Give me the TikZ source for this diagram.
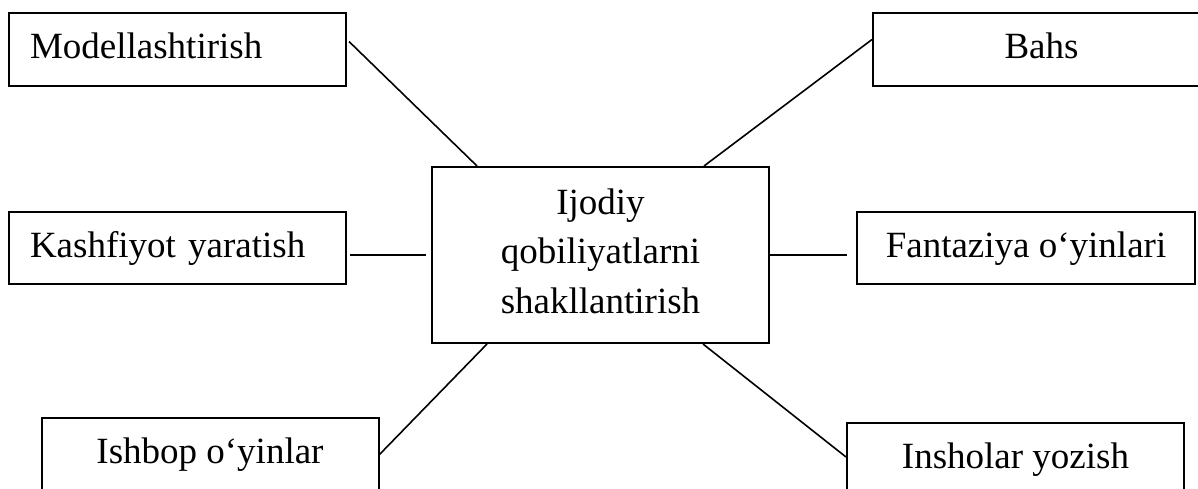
\documentclass[tikz,border=0pt]{standalone}
\usepackage{fontspec}
\setmainfont{Liberation Serif}
\newcommand{\bodyfont}{\fontsize{37pt}{49.5pt}\selectfont}
\tikzset{
  box/.style={draw, line width=2pt, minimum height=73pt, inner sep=0pt,
    font=\bodyfont, text height=26pt, text depth=8pt},
  cbox/.style={box, minimum width=337pt},
  lbox/.style={box, text width=295pt, align=left, inner xsep=21pt},
  conn/.style={line width=1.6pt}
}
\begin{document}
\begin{tikzpicture}[x=1pt,y=-1pt]
\useasboundingbox (0,0) rectangle (1198,489);
\clip (0,0) rectangle (1198,489);
\node[lbox] (model) at (177.5,49.5) {Modellashtirish};
\node[cbox] (bahs) at (1041.5,49.5) {Bahs};
\node[lbox, minimum height=72pt] (kash) at (177.5,248) {Kashfiyot yaratish};
\node[cbox, minimum height=72pt, minimum width=338pt] (fant) at (1026,248) {Fantaziya o‘yinlari};
\node[draw, line width=2pt, minimum width=337pt, minimum height=176pt, inner sep=0pt,
  font=\bodyfont, align=center] (center) at (600.5,255)
  {Ijodiy\\qobiliyatlarni\\shakllantirish\vphantom{y}};
\node[cbox] (ishbop) at (210,454.5) {Ishbop o‘yinlar};
\node[cbox] (insh) at (1015.5,459.5) {Insholar yozish};
\draw[conn] ([xshift=2pt,yshift=8pt]model.east) -- ([xshift=46pt]center.north west);
\draw[conn] ([yshift=10pt]bahs.west) -- ([xshift=-66pt]center.north east);
\draw[conn] ([xshift=3pt]kash.east |- center.west) -- ([xshift=-5pt]center.west);
\draw[conn] (center.east) -- ([xshift=-9pt]fant.west |- center.east);
\draw[conn] (ishbop.east) -- ([xshift=56pt]center.south west);
\draw[conn] ([yshift=2.5pt]insh.west) -- ([xshift=-67pt]center.south east);
\end{tikzpicture}
\end{document}
